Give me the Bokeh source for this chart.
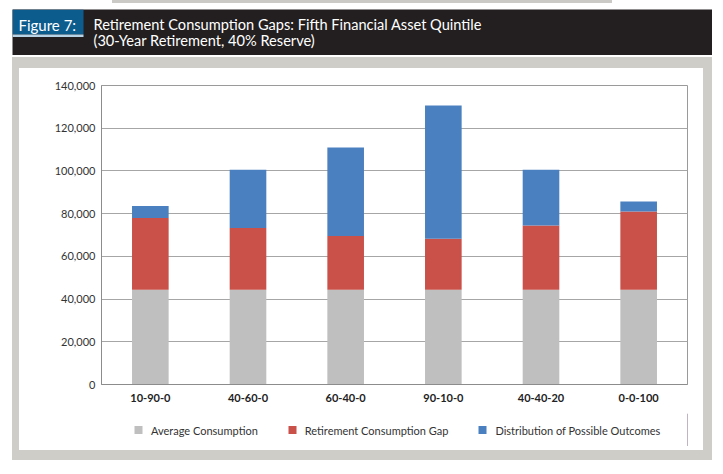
from bokeh.plotting import figure
from bokeh.layouts import column, row
from bokeh.models import BoxAnnotation, Label, Legend, LegendItem, NumeralTickFormatter, Spacer, ColumnDataSource
from bokeh.embed import file_html
from bokeh.resources import INLINE

categories = ["10-90-0", "40-60-0", "60-40-0", "90-10-0", "40-40-20", "0-0-100"]
average_consumption = [44400, 44400, 44400, 44400, 44400, 44400]
consumption_gap = [33600, 28900, 25100, 23900, 30100, 36600]
possible_outcomes = [5600, 27300, 41500, 62300, 26100, 4700]
y_ticks = [0, 20000, 40000, 60000, 80000, 100000, 120000, 140000]
series_names = ["Average Consumption", "Retirement Consumption Gap", "Distribution of Possible Outcomes"]
series_colors = ["#bfbfbf", "#c9514a", "#4a80bf"]
figure_label = "Figure 7:"
title_lines = ["Retirement Consumption Gaps: Fifth Financial Asset Quintile",
               "(30-Year Retirement, 40% Reserve)"]

FONT = "Lato"
GRAY = "#cfcdc8"
BLACK = "#231f20"
WHITE = "#ffffff"

# ---------------- header ----------------
HW, HH = 700, 46
header = figure(width=HW, height=HH, x_range=(0, HW), y_range=(HH, 0),
                x_axis_type=None, y_axis_type=None, output_backend="svg",
                toolbar_location=None, min_border=0)
header.outline_line_color = None
header.background_fill_color = BLACK
header.border_fill_color = BLACK
header.grid.visible = False
header.add_layout(BoxAnnotation(left=0, right=71, top=0, bottom=25, fill_color="#0d5c8e",
                                fill_alpha=1, line_color=None))
header.add_layout(BoxAnnotation(left=0, right=71, top=25, bottom=27.5, fill_color="#b9d3e6",
                                fill_alpha=1, line_color=None))
header.add_layout(Label(x=6, y=15, text=figure_label, text_font=FONT, text_font_size="15px",
                        text_color="white", text_baseline="alphabetic"))
for i, t in enumerate(title_lines):
    header.add_layout(Label(x=81, y=15 + 15.5 * i, text=t, text_font=FONT, text_font_size="14.6px",
                            text_color="white", text_baseline="alphabetic"))

# ---------------- chart ----------------
CW = 684
p = figure(x_range=categories, y_range=(0, 140000), width=CW, height=345,
           output_backend="svg", toolbar_location=None,
           min_border_left=82, min_border_right=16, min_border_top=17, min_border_bottom=29)
p.border_fill_color = WHITE
p.background_fill_color = WHITE
p.outline_line_color = "#9a9a9a"

data = dict(cat=categories, avg=average_consumption, gap=consumption_gap, dist=possible_outcomes)
p.vbar_stack(["avg", "gap", "dist"], x="cat", width=0.375, source=data,
             color=series_colors, line_color=None)

p.xgrid.grid_line_color = None
p.ygrid.grid_line_color = "#a6a6a6"
p.ygrid.ticker = y_ticks

p.yaxis.ticker = y_ticks
p.yaxis.formatter = NumeralTickFormatter(format="0,0")
p.yaxis.axis_line_color = "#8c8c8c"
p.yaxis.major_tick_line_color = None
p.yaxis.minor_tick_line_color = None
p.yaxis.major_tick_out = 0
p.yaxis.major_tick_in = 0
p.yaxis.major_label_standoff = 6
p.yaxis.major_label_text_font = FONT
p.yaxis.major_label_text_font_size = "11px"
p.yaxis.major_label_text_color = "#333333"

p.xaxis.axis_line_color = "#8c8c8c"
p.xaxis.major_tick_line_color = None
p.xaxis.major_tick_out = 0
p.xaxis.major_tick_in = 0
p.xaxis.major_label_standoff = 9
p.xaxis.major_label_text_font = FONT
p.xaxis.major_label_text_font_style = "bold"
p.xaxis.major_label_text_font_size = "11px"
p.xaxis.major_label_text_color = "#222222"

# ---------------- legend strip ----------------
lg = figure(width=CW, height=33, x_range=(0, 1), y_range=(0, 1), x_axis_type=None,
            y_axis_type=None, output_backend="svg", toolbar_location=None,
            min_border_left=82, min_border_right=16, min_border_top=0, min_border_bottom=0)
lg.outline_line_color = None
lg.grid.visible = False
lg.border_fill_color = WHITE
lg.background_fill_color = WHITE
items = []
for name, col in zip(series_names, series_colors):
    # key-only renderer: its single point lies outside the strip's ranges, so only the legend key shows
    r = lg.vbar(x="x", top="top", width=0.1, color=col, line_color=None,
                source=ColumnDataSource(data=dict(x=[5], top=[5])))
    items.append(LegendItem(label=name, renderers=[r]))
legend = Legend(items=items, orientation="horizontal", location="left")
legend.border_line_color = None
legend.background_fill_alpha = 0
legend.glyph_width = 10
legend.glyph_height = 10
legend.label_height = 12
legend.label_text_font = FONT
legend.label_text_font_size = "11px"
legend.label_text_color = "#333333"
legend.spacing = 29
legend.label_standoff = 8
legend.padding = 0
legend.margin = 32
lg.add_layout(legend, "center")

gs = {"background-color": GRAY}
ws = {"background-color": WHITE}
panel = row(Spacer(width=7, height=403, styles=gs),
            column(Spacer(width=CW, height=11, styles=gs), p, lg,
                   Spacer(width=CW, height=4, styles=ws),
                   Spacer(width=CW, height=10, styles=gs), spacing=0, styles=ws),
            Spacer(width=9, height=403, styles=gs), spacing=0, styles=gs)

top_strip = row(Spacer(width=100, height=3),
                Spacer(width=500, height=3, styles={"background-color": "#cbcac6"}), spacing=0)

root = row(Spacer(width=12, height=460),
           column(top_strip, Spacer(width=HW, height=6), header, Spacer(width=HW, height=2), panel,
                  spacing=0),
           spacing=0)

open("out.html", "w").write(file_html(root, INLINE))
